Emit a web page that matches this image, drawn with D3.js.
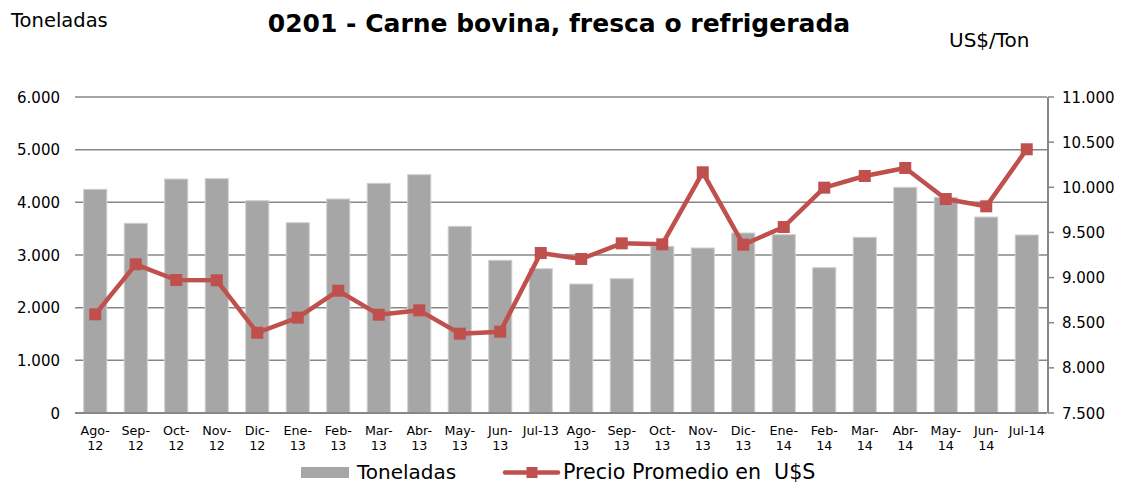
<!DOCTYPE html>
<html>
<head>
<meta charset="utf-8">
<script src="https://cdn.jsdelivr.net/npm/d3@7/dist/d3.min.js"></script>
<style>
  body { margin: 0; background: #fff; }
  svg text { font-family: "DejaVu Sans", Verdana, sans-serif; fill: #000; }
</style>
</head>
<body>
<div id="chart"></div>
<script>
// Months (two-line labels split on "\n")
const months = [
  "Ago-\n12", "Sep-\n12", "Oct-\n12", "Nov-\n12", "Dic-\n12", "Ene-\n13",
  "Feb-\n13", "Mar-\n13", "Abr-\n13", "May-\n13", "Jun-\n13", "Jul-13",
  "Ago-\n13", "Sep-\n13", "Oct-\n13", "Nov-\n13", "Dic-\n13", "Ene-\n14",
  "Feb-\n14", "Mar-\n14", "Abr-\n14", "May-\n14", "Jun-\n14", "Jul-14"
];

// Toneladas (bars, left axis)
const toneladas = [
  4247, 3602, 4443, 4449, 4031, 3613, 4063, 4361, 4525, 3544, 2899, 2740,
  2449, 2550, 3165, 3133, 3418, 3386, 2759, 3336, 4285, 4095, 3721, 3380
];

// Precio promedio US$/Ton (line, right axis)
const precio = [
  8593, 9147, 8973, 8970, 8389, 8556, 8855, 8589, 8637, 8379, 8401, 9272,
  9206, 9379, 9368, 10166, 9364, 9560, 9996, 10125, 10214, 9870, 9789, 10421
];

const leftTicks = [0, 1000, 2000, 3000, 4000, 5000, 6000];
const rightTicks = [7500, 8000, 8500, 9000, 9500, 10000, 10500, 11000];

const w = 1125, h = 487;
const mg = { left: 75, right: 78, top: 97, bottom: 74 };
const barColor = "#a6a6a6", lineColor = "#c0504d", gridColor = "#878787";
const numFmt = (d) => d3.format(",")(d).replace(/,/g, ".");

const svg = d3.select("#chart").append("svg")
  .attr("width", w)
  .attr("height", h);

// Scales
const x = d3.scaleBand()
  .domain(d3.range(months.length))
  .range([mg.left, w - mg.right])
  .paddingInner(0.43)
  .paddingOuter(0.215);

const yL = d3.scaleLinear().domain([0, 6000]).range([h - mg.bottom, mg.top]);
const yR = d3.scaleLinear().domain([7500, 11000]).range([h - mg.bottom, mg.top]);

// Gridlines
svg.append("g")
  .selectAll("line")
  .data(leftTicks.slice(1))
  .join("line")
  .attr("x1", mg.left)
  .attr("x2", w - mg.right)
  .attr("y1", (d) => yL(d))
  .attr("y2", (d) => yL(d))
  .attr("stroke", gridColor)
  .attr("stroke-width", 1.5);

// Left axis labels
svg.append("g")
  .selectAll("text")
  .data(leftTicks)
  .join("text")
  .attr("x", 60)
  .attr("y", (d) => yL(d) + 5.5)
  .attr("text-anchor", "end")
  .style("font-size", "15px")
  .text(numFmt);

// Bars
svg.append("g")
  .selectAll("rect")
  .data(toneladas)
  .join("rect")
  .attr("x", (d, i) => x(i))
  .attr("y", (d) => yL(d))
  .attr("width", x.bandwidth())
  .attr("height", (d) => yL(0) - yL(d))
  .attr("fill", barColor)
  .attr("stroke", "#cfcfcf")
  .attr("stroke-width", 1);

// Bottom axis line
svg.append("line")
  .attr("x1", mg.left)
  .attr("x2", w - mg.right)
  .attr("y1", yL(0))
  .attr("y2", yL(0))
  .attr("stroke", gridColor)
  .attr("stroke-width", 2);

// Right axis
const rightX = w - mg.right + 1;
const rAxis = svg.append("g");
rAxis.append("line")
  .attr("x1", rightX).attr("x2", rightX)
  .attr("y1", yR(11000)).attr("y2", yR(7500))
  .attr("stroke", gridColor)
  .attr("stroke-width", 2);
rAxis.selectAll("line.tick")
  .data(rightTicks)
  .join("line")
  .attr("class", "tick")
  .attr("x1", rightX).attr("x2", rightX + 6)
  .attr("y1", (d) => yR(d)).attr("y2", (d) => yR(d))
  .attr("stroke", gridColor)
  .attr("stroke-width", 1.5);
rAxis.selectAll("text")
  .data(rightTicks)
  .join("text")
  .attr("x", rightX + 14)
  .attr("y", (d) => yR(d) + 5.5)
  .style("font-size", "15px")
  .text(numFmt);

// X labels
const xl = svg.append("g")
  .selectAll("text")
  .data(months)
  .join("text")
  .attr("text-anchor", "middle")
  .style("font-size", "12.7px")
  .attr("transform", (d, i) => `translate(${x(i) + x.bandwidth() / 2},${yL(0) + 22})`);
xl.selectAll("tspan")
  .data((d) => d.split("\n"))
  .join("tspan")
  .attr("x", 0)
  .attr("dy", (d, i) => i === 0 ? 0 : 14.5)
  .text((d) => d);

// Price line
const cx = (i) => x(i) + x.bandwidth() / 2;
const line = d3.line()
  .x((d, i) => cx(i))
  .y((d) => yR(d));

svg.append("path")
  .attr("d", line(precio))
  .attr("fill", "none")
  .attr("stroke", lineColor)
  .attr("stroke-width", 4.5)
  .attr("stroke-linejoin", "round");

svg.append("g")
  .selectAll("rect")
  .data(precio)
  .join("rect")
  .attr("x", (d, i) => cx(i) - 6)
  .attr("y", (d) => yR(d) - 6)
  .attr("width", 12)
  .attr("height", 12)
  .attr("fill", lineColor);

// Titles
svg.append("text")
  .attr("x", 559)
  .attr("y", 31.5)
  .attr("text-anchor", "middle")
  .style("font-size", "25px")
  .style("font-weight", "bold")
  .text("0201 - Carne bovina, fresca o refrigerada");

svg.append("text")
  .attr("x", 11)
  .attr("y", 27.3)
  .style("font-size", "19.5px")
  .text("Toneladas");

svg.append("text")
  .attr("x", 949)
  .attr("y", 46.7)
  .style("font-size", "20px")
  .text("US$/Ton");

// Legend
const lg = svg.append("g");
lg.append("rect")
  .attr("x", 301).attr("y", 467)
  .attr("width", 48).attr("height", 11)
  .attr("fill", barColor);
lg.append("text")
  .attr("x", 357).attr("y", 479.3)
  .style("font-size", "20px")
  .text("Toneladas");
lg.append("line")
  .attr("x1", 505).attr("x2", 558)
  .attr("y1", 472.5).attr("y2", 472.5)
  .attr("stroke", lineColor)
  .attr("stroke-width", 4.5)
  .attr("stroke-linecap", "round");
lg.append("rect")
  .attr("x", 526.5).attr("y", 467)
  .attr("width", 11).attr("height", 11)
  .attr("fill", lineColor);
lg.append("text")
  .attr("x", 563).attr("y", 479.3)
  .style("font-size", "20.6px")
  .style("white-space", "pre")
  .text("Precio Promedio en  U$S");
</script>
</body>
</html>
